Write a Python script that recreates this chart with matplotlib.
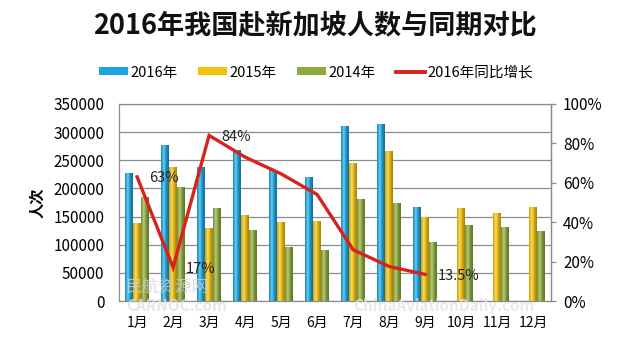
import numpy as np
import matplotlib
matplotlib.use("Agg")
import matplotlib.pyplot as plt
from matplotlib.patches import Patch
from matplotlib.lines import Line2D
from matplotlib.ticker import FuncFormatter

plt.rcParams["font.family"] = ["Noto Sans CJK SC", "DejaVu Sans"]

months = ["1月", "2月", "3月", "4月", "5月", "6月", "7月", "8月", "9月", "10月", "11月", "12月"]
y2016 = [228000, 277000, 238500, 268000, 232500, 220000, 311000, 314500, 167500]
y2015 = [138000, 237500, 129000, 152500, 141000, 142500, 245500, 266500, 150000, 164500, 157000, 167500]
y2014 = [185000, 203000, 164500, 126000, 95500, 90500, 180500, 173500, 105500, 135000, 132000, 125000]
growth = [0.63, 0.17, 0.84, 0.73, 0.645, 0.54, 0.26, 0.175, 0.135]
growth_labels = {0: "63%", 1: "17%", 2: "84%", 8: "13.5%"}

c_blue = "#1ba6de"
c_yellow = "#f3c20c"
c_green = "#8dab3c"
c_red = "#d7231d"
grid_c = "#8c8c8c"


def shade(ax, bars, color):
    # cylinder-like horizontal gradient clipped to each bar
    base = np.array(matplotlib.colors.to_rgb(color))
    t = np.linspace(0, 1, 32)
    k = 1 - 0.55 * np.abs(t - 0.35) ** 1.2
    light = np.clip(base * k[:, None], 0, 1)
    hi = np.exp(-((t - 0.35) / 0.18) ** 2)[:, None]
    light = np.clip(light * (1 - 0.35 * hi) + 0.35 * hi, 0, 1)
    img = light[None, :, :]
    for b in bars:
        x0, y0 = b.get_x(), b.get_y()
        w, h = b.get_width(), b.get_height()
        im = ax.imshow(img, extent=(x0, x0 + w, y0, y0 + h), aspect="auto",
                       zorder=b.get_zorder() + 0.1, interpolation="bilinear")
        im.set_clip_path(b)


fig = plt.figure(figsize=(6.3, 3.44), dpi=100)
ax = fig.add_axes([0.189, 0.125, 0.686, 0.573])

x = np.arange(len(months))
w = 0.222
b16 = ax.bar(x[:len(y2016)] - w, y2016, w, color=c_blue, zorder=3)
b15 = ax.bar(x, y2015, w, color=c_yellow, zorder=3)
b14 = ax.bar(x + w, y2014, w, color=c_green, zorder=3)
shade(ax, b16, c_blue)
shade(ax, b15, c_yellow)
shade(ax, b14, c_green)

ax.set_xlim(-0.5, len(months) - 0.5)
ax.set_ylim(0, 350000)
ax.set_yticks(np.arange(0, 350001, 50000))
ax.set_xticks(x)
ax.set_xticklabels(months, fontsize=10)
ax.tick_params(axis="y", length=0, pad=10.5, labelsize=11)
ax.tick_params(axis="x", length=0, pad=11)
ax.grid(axis="y", color=grid_c, lw=0.9, zorder=0)
for s in ax.spines.values():
    s.set_color(grid_c)
    s.set_linewidth(0.9)

ax2 = ax.twinx()
ax2.set_ylim(0, 1)
ax2.set_yticks(np.arange(0, 1.01, 0.2))
ax2.yaxis.set_major_formatter(FuncFormatter(lambda v, p: f"{v * 100:.0f}%"))
ax2.tick_params(axis="y", length=3.5, width=0.9, color=grid_c, pad=5, labelsize=11)
for s in ax2.spines.values():
    s.set_visible(False)
ax2.spines["right"].set_visible(True)
ax2.spines["right"].set_color(grid_c)
ax2.spines["right"].set_linewidth(0.9)

ax2.plot(x[:len(growth)], growth, color=c_red, lw=2.4, zorder=5, solid_joinstyle="miter")
for i, lab in growth_labels.items():
    ax2.annotate(lab, (x[i], growth[i]), xytext=(9, -1), textcoords="offset points",
                 ha="left", va="center", fontsize=10.5, color="#222222")

fig.text(0.5, 0.924, "2016年我国赴新加坡人数与同期对比", ha="center", va="center",
         fontsize=19.5, fontweight="bold", color="#111111")
fig.text(0.059, 0.41, "人次", rotation=90, ha="center", va="center",
         fontsize=11, fontweight="bold")

handles = [Patch(facecolor=c_blue), Patch(facecolor=c_yellow), Patch(facecolor=c_green),
           Line2D([0], [0], color=c_red, lw=2.8)]
labels = ["2016年", "2015年", "2014年", "2016年同比增长"]
fig.legend(handles, labels, loc="center", bbox_to_anchor=(0.502, 0.789), ncol=4,
           frameon=False, fontsize=10.5, handlelength=2.0, handleheight=0.45,
           handletextpad=0.15, columnspacing=1.4)

# faint watermarks, kept clear of the tick labels
fig.text(0.2, 0.165, "民航资源网", fontsize=12, color="#d0d0d0", alpha=0.8,
         ha="left", va="center")
fig.text(0.2, 0.11, "CARNOC.com", fontsize=11, color="#e0e0e0", alpha=0.8,
         fontweight="bold", ha="left", va="center")
fig.text(0.56, 0.11, "ChinaAviationDaily.com", fontsize=11, color="#e4e4e4", alpha=0.8,
         fontweight="bold", ha="left", va="center")

fig.savefig("out.png", dpi=100, facecolor="white")
